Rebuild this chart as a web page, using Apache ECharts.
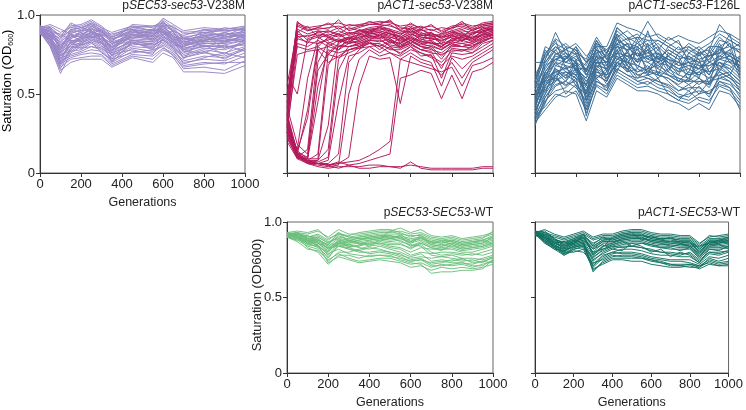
<!DOCTYPE html>
<html><head><meta charset="utf-8">
<script src="https://cdn.jsdelivr.net/npm/echarts@6/dist/echarts.min.js"></script>
<style>html,body{margin:0;padding:0;background:#fff}#c{width:746px;height:410px}</style>
</head><body><div id="c"></div>
<script>
var xTicks = [0, 200, 400, 600, 800, 1000];
var yTicks = [0, 0.5, 1.0];

var gens1 = [0,50,100,150,200,250,300,350,450,550,600,650,700,800,900,1000];
var gens50 = [0,50,100,150,200,250,300,350,400,450,500,550,600,650,700,750,800,850,900,950,1000];

var secV238M = [
[.91,.93,.89,.92,.93,.96,.92,.89,.93,.92,.97,.92,.89,.90,.91,.92],
[.92,.90,.84,.91,.92,.94,.91,.86,.92,.90,.95,.90,.87,.91,.90,.91],
[.90,.92,.87,.94,.90,.93,.89,.88,.91,.89,.94,.91,.86,.88,.92,.90],
[.89,.88,.80,.88,.91,.95,.90,.84,.90,.91,.96,.89,.84,.87,.88,.89],
[.93,.91,.82,.86,.89,.92,.88,.83,.94,.93,.93,.93,.88,.89,.87,.92],
[.90,.86,.76,.85,.88,.90,.87,.80,.89,.87,.92,.88,.83,.86,.85,.88],
[.91,.89,.78,.90,.87,.91,.90,.82,.88,.86,.91,.87,.81,.84,.86,.87],
[.88,.85,.72,.83,.86,.89,.86,.78,.87,.88,.90,.86,.80,.85,.84,.86],
[.92,.87,.74,.81,.85,.88,.85,.79,.86,.85,.89,.85,.78,.83,.83,.85],
[.90,.84,.70,.84,.84,.87,.84,.76,.85,.84,.88,.84,.79,.82,.82,.88],
[.89,.83,.68,.79,.83,.86,.83,.75,.84,.83,.87,.83,.77,.80,.81,.84],
[.91,.82,.66,.78,.82,.85,.82,.74,.83,.82,.86,.82,.76,.81,.79,.83],
[.90,.80,.63,.76,.80,.84,.81,.72,.82,.80,.85,.81,.75,.79,.78,.82],
[.92,.89,.85,.93,.94,.97,.93,.87,.93,.90,.98,.94,.90,.92,.91,.93],
[.89,.87,.81,.87,.86,.89,.88,.85,.89,.89,.93,.90,.85,.86,.89,.86],
[.91,.90,.79,.82,.85,.87,.84,.81,.90,.86,.90,.85,.82,.83,.84,.85],
[.88,.86,.77,.80,.79,.83,.80,.77,.84,.81,.84,.80,.74,.78,.76,.80],
[.90,.85,.75,.77,.78,.82,.79,.73,.80,.79,.83,.79,.73,.76,.74,.79],
[.91,.84,.73,.75,.77,.80,.78,.71,.79,.77,.82,.78,.71,.74,.73,.78],
[.89,.83,.71,.74,.76,.78,.77,.70,.77,.76,.81,.77,.70,.72,.71,.76],
[.92,.82,.69,.73,.75,.76,.75,.69,.75,.74,.79,.76,.68,.70,.69,.74],
[.90,.81,.67,.72,.73,.74,.74,.68,.74,.72,.78,.75,.66,.67,.65,.71],
[.89,.80,.65,.70,.72,.72,.72,.67,.73,.70,.76,.73,.64,.64,.63,.68],
[.91,.88,.83,.89,.90,.91,.89,.84,.91,.88,.91,.86,.83,.85,.83,.87],
[.90,.87,.80,.84,.83,.86,.85,.80,.87,.84,.88,.87,.82,.88,.87,.90],
[.93,.92,.86,.95,.92,.95,.92,.86,.92,.93,.95,.92,.85,.89,.90,.91],
[.88,.84,.74,.79,.81,.84,.82,.78,.83,.78,.86,.83,.78,.80,.80,.81],
[.90,.86,.72,.81,.82,.85,.83,.76,.81,.82,.87,.81,.80,.84,.85,.83],
[.89,.85,.77,.86,.88,.88,.87,.79,.88,.85,.89,.84,.81,.82,.82,.84],
[.91,.88,.79,.87,.84,.90,.86,.82,.86,.87,.92,.88,.84,.87,.86,.89],
[.92,.94,.91,.88,.86,.93,.90,.85,.88,.86,.96,.89,.82,.84,.88,.86],
[.89,.91,.86,.90,.92,.90,.86,.82,.85,.90,.91,.84,.86,.80,.83,.91],
[.91,.85,.78,.91,.89,.86,.88,.77,.91,.84,.94,.86,.72,.87,.79,.82],
[.90,.88,.70,.79,.87,.92,.84,.70,.83,.79,.88,.90,.77,.76,.81,.77],
[.93,.89,.88,.84,.81,.88,.91,.83,.87,.91,.89,.82,.80,.91,.86,.88],
[.88,.83,.75,.83,.79,.80,.79,.75,.78,.75,.85,.79,.69,.73,.76,.73],
[.90,.90,.81,.85,.90,.94,.89,.86,.90,.88,.93,.86,.85,.83,.89,.92],
[.91,.87,.69,.77,.81,.83,.76,.72,.76,.78,.80,.74,.67,.69,.70,.70],
[.92,.86,.83,.88,.83,.90,.82,.80,.84,.83,.90,.83,.79,.81,.75,.85],
[.89,.92,.76,.82,.86,.86,.87,.74,.82,.81,.84,.80,.73,.77,.72,.79]
];

var actV238M = [
[.45,.95,.92,.93,.94,.95,.93,.94,.95,.96,.95,.93,.94,.92,.93,.90,.93,.94,.92,.95,.96],
[.35,.93,.90,.92,.91,.97,.90,.92,.94,.95,.96,.92,.91,.93,.90,.92,.91,.95,.93,.94,.95],
[.55,.91,.88,.90,.89,.92,.88,.90,.92,.93,.94,.90,.89,.91,.88,.87,.90,.92,.90,.93,.94],
[.30,.88,.86,.89,.90,.87,.89,.88,.90,.92,.91,.89,.92,.88,.89,.85,.88,.90,.89,.91,.92],
[.62,.50,.85,.87,.86,.84,.86,.87,.89,.90,.88,.86,.90,.86,.85,.84,.86,.88,.85,.90,.91],
[.40,.85,.83,.82,.84,.88,.84,.85,.88,.89,.86,.84,.87,.83,.84,.80,.85,.86,.84,.88,.90],
[.25,.82,.80,.84,.80,.78,.82,.83,.86,.87,.84,.82,.85,.82,.80,.78,.83,.82,.83,.86,.88],
[.50,.80,.78,.80,.75,.81,.80,.82,.85,.85,.80,.79,.83,.80,.78,.76,.81,.80,.82,.85,.87],
[.38,.90,.84,.86,.82,.85,.83,.86,.87,.88,.82,.85,.88,.85,.82,.82,.84,.84,.86,.87,.89],
[.28,.75,.77,.78,.70,.74,.78,.80,.83,.78,.83,.80,.82,.78,.76,.75,.78,.77,.80,.84,.86],
[.48,.94,.91,.91,.92,.93,.91,.93,.94,.94,.93,.91,.93,.90,.91,.88,.92,.93,.91,.94,.95],
[.36,.86,.87,.88,.87,.90,.87,.89,.91,.91,.90,.88,.90,.87,.87,.86,.89,.88,.88,.91,.93],
[.42,.96,.90,.92,.95,.91,.94,.93,.96,.94,.97,.90,.95,.91,.94,.89,.92,.96,.90,.93,.94],
[.33,.89,.93,.86,.90,.88,.92,.90,.89,.92,.88,.87,.92,.89,.86,.88,.90,.86,.91,.92,.90],
[.44,.87,.82,.90,.86,.83,.86,.80,.84,.88,.85,.80,.84,.81,.83,.79,.82,.80,.81,.83,.86],
[.30,.15,.60,.85,.88,.86,.88,.90,.91,.92,.90,.88,.91,.87,.88,.86,.89,.91,.87,.92,.93],
[.25,.12,.40,.82,.85,.83,.85,.88,.90,.90,.88,.86,.89,.84,.86,.82,.87,.89,.85,.90,.92],
[.22,.10,.15,.78,.80,.84,.82,.84,.87,.85,.89,.83,.86,.82,.83,.80,.84,.86,.83,.88,.90],
[.35,.13,.10,.70,.83,.80,.80,.82,.84,.83,.85,.81,.84,.80,.81,.78,.82,.84,.82,.86,.88],
[.20,.09,.09,.55,.78,.76,.78,.80,.82,.80,.84,.79,.82,.78,.80,.74,.80,.80,.79,.84,.86],
[.42,.18,.12,.65,.75,.73,.76,.79,.80,.81,.79,.76,.80,.76,.74,.70,.77,.78,.76,.82,.84],
[.29,.14,.35,.80,.86,.88,.84,.91,.88,.93,.91,.82,.87,.91,.87,.83,.88,.83,.89,.89,.92],
[.37,.12,.09,.45,.82,.78,.86,.84,.90,.86,.86,.84,.85,.84,.89,.81,.83,.87,.85,.88,.87],
[.28,.11,.08,.12,.76,.82,.85,.86,.88,.89,.87,.85,.88,.86,.85,.84,.86,.87,.86,.89,.91],
[.33,.14,.09,.09,.68,.80,.83,.83,.86,.86,.83,.82,.86,.83,.82,.80,.85,.85,.84,.87,.89],
[.26,.11,.08,.08,.30,.84,.82,.88,.86,.87,.90,.86,.82,.88,.84,.86,.87,.84,.88,.90,.85],
[.24,.10,.07,.08,.15,.72,.80,.81,.84,.84,.81,.80,.84,.80,.79,.72,.81,.82,.80,.85,.88],
[.31,.12,.08,.07,.10,.65,.78,.79,.82,.82,.78,.78,.81,.78,.77,.66,.79,.78,.78,.83,.86],
[.27,.11,.06,.06,.08,.45,.74,.76,.80,.76,.80,.75,.80,.74,.75,.60,.76,.75,.76,.80,.84],
[.38,.13,.07,.06,.06,.12,.70,.78,.83,.80,.76,.74,.78,.76,.73,.68,.74,.72,.74,.78,.82],
[.26,.10,.06,.05,.04,.05,.50,.72,.78,.74,.76,.72,.76,.72,.70,.55,.73,.66,.72,.76,.80],
[.34,.12,.07,.06,.05,.06,.10,.55,.74,.72,.73,.44,.74,.70,.68,.62,.70,.60,.70,.74,.78],
[.29,.11,.07,.06,.05,.06,.07,.08,.11,.15,.20,.72,.70,.68,.66,.64,.67,.55,.68,.70,.73],
[.32,.12,.08,.06,.05,.07,.05,.06,.08,.10,.12,.60,.62,.65,.63,.47,.62,.47,.64,.66,.70],
[.30,.10,.07,.06,.05,.03,.05,.03,.03,.04,.04,.03,.07,.03,.02,.02,.02,.02,.02,.03,.03],
[.23,.09,.06,.04,.03,.04,.04,.04,.05,.05,.04,.04,.05,.04,.03,.03,.03,.03,.03,.04,.04]
];

var actF126L = [
[.45,.62,.72,.70,.68,.55,.75,.70,.85,.80,.78,.82,.75,.72,.70,.68,.66,.72,.78,.74,.70],
[.38,.55,.65,.60,.72,.48,.68,.62,.78,.82,.74,.76,.80,.66,.62,.60,.70,.62,.74,.78,.66],
[.52,.70,.80,.74,.65,.60,.80,.68,.88,.76,.70,.90,.72,.78,.74,.62,.64,.70,.82,.70,.74],
[.30,.48,.58,.62,.58,.42,.62,.58,.72,.70,.68,.65,.62,.60,.55,.52,.58,.56,.66,.62,.52],
[.60,.75,.85,.80,.78,.70,.84,.75,.92,.86,.82,.88,.80,.74,.80,.72,.70,.76,.86,.80,.78],
[.42,.58,.60,.55,.62,.52,.70,.65,.74,.66,.72,.70,.66,.62,.58,.64,.60,.54,.68,.66,.60],
[.35,.50,.68,.66,.70,.36,.58,.55,.68,.72,.62,.60,.58,.55,.50,.48,.55,.48,.62,.58,.48],
[.55,.66,.75,.78,.75,.65,.78,.72,.82,.85,.88,.80,.84,.80,.76,.78,.74,.80,.80,.84,.80],
[.48,.60,.70,.64,.60,.56,.74,.66,.80,.74,.76,.72,.70,.68,.64,.66,.62,.66,.72,.70,.64],
[.33,.45,.55,.58,.66,.46,.64,.60,.70,.64,.66,.62,.64,.58,.52,.56,.50,.58,.60,.62,.56],
[.58,.72,.89,.76,.72,.68,.82,.78,.86,.90,.84,.96,.86,.82,.78,.80,.76,.78,.94,.86,.82],
[.40,.52,.62,.68,.55,.50,.66,.62,.76,.68,.60,.66,.68,.64,.60,.58,.64,.60,.70,.64,.58],
[.50,.64,.74,.72,.80,.62,.72,.74,.80,.78,.80,.74,.76,.72,.68,.70,.72,.74,.76,.76,.72],
[.36,.42,.50,.48,.52,.40,.55,.50,.62,.58,.54,.55,.52,.50,.46,.44,.48,.46,.55,.52,.44],
[.70,.70,.78,.82,.76,.72,.86,.76,.90,.84,.86,.84,.78,.86,.82,.76,.80,.74,.84,.82,.76],
[.44,.56,.66,.60,.64,.54,.60,.64,.72,.76,.70,.78,.72,.70,.66,.62,.66,.64,.66,.72,.68],
[.32,.40,.48,.52,.50,.33,.52,.48,.60,.56,.52,.52,.50,.46,.44,.40,.44,.40,.52,.50,.42],
[.56,.68,.78,.70,.74,.64,.76,.70,.84,.80,.74,.78,.82,.76,.72,.74,.70,.72,.80,.74,.70],
[.46,.60,.64,.66,.68,.58,.68,.66,.74,.70,.64,.68,.60,.66,.70,.66,.62,.68,.70,.68,.62],
[.40,.50,.60,.56,.58,.44,.66,.56,.66,.62,.58,.60,.56,.54,.48,.50,.52,.50,.58,.56,.50],
[.54,.76,.82,.78,.82,.74,.80,.80,.95,.92,.90,.86,.88,.84,.87,.84,.82,.86,.90,.88,.84],
[.38,.54,.58,.64,.62,.50,.72,.60,.70,.74,.68,.64,.70,.62,.60,.56,.60,.56,.64,.60,.54],
[.50,.62,.70,.68,.66,.60,.70,.68,.78,.72,.78,.70,.74,.70,.66,.68,.66,.70,.74,.72,.66],
[.34,.46,.52,.54,.60,.40,.60,.52,.64,.60,.56,.58,.54,.52,.48,.46,.50,.52,.56,.54,.46],
[.62,.74,.80,.76,.70,.66,.78,.74,.82,.78,.82,.76,.72,.78,.74,.72,.76,.74,.78,.80,.76],
[.42,.58,.66,.62,.66,.56,.64,.62,.68,.66,.62,.64,.62,.60,.56,.60,.56,.60,.62,.64,.58],
[.47,.64,.72,.74,.70,.62,.74,.70,.76,.74,.72,.74,.70,.74,.68,.70,.68,.68,.72,.74,.70],
[.36,.48,.56,.58,.54,.46,.58,.54,.66,.62,.60,.62,.58,.56,.52,.54,.54,.50,.60,.58,.52],
[.58,.80,.76,.72,.78,.64,.84,.72,.88,.82,.80,.84,.84,.80,.76,.82,.78,.82,.88,.84,.80],
[.44,.55,.62,.64,.60,.52,.62,.58,.70,.68,.64,.66,.64,.62,.58,.58,.58,.58,.64,.60,.56],
[.48,.72,.84,.66,.62,.70,.78,.64,.82,.68,.84,.72,.78,.70,.62,.74,.68,.62,.76,.82,.62],
[.40,.64,.58,.74,.70,.50,.82,.72,.64,.78,.66,.82,.62,.76,.72,.58,.76,.64,.70,.66,.72],
[.55,.58,.70,.80,.64,.58,.66,.76,.86,.70,.76,.66,.74,.64,.76,.70,.60,.78,.64,.76,.60],
[.35,.60,.76,.70,.76,.62,.74,.58,.76,.82,.70,.74,.68,.72,.64,.76,.72,.56,.80,.70,.68],
[.50,.52,.64,.58,.70,.46,.70,.70,.78,.64,.80,.62,.76,.68,.58,.64,.78,.70,.68,.62,.74],
[.43,.68,.72,.76,.66,.66,.60,.66,.92,.86,.74,.80,.70,.80,.84,.70,.66,.74,.76,.88,.64],
[.31,.44,.62,.50,.56,.38,.56,.52,.70,.66,.58,.56,.60,.50,.46,.52,.46,.44,.58,.54,.40],
[.57,.78,.68,.72,.80,.70,.76,.78,.72,.76,.86,.78,.66,.74,.70,.80,.74,.80,.72,.78,.82]
];

var secWT = [
[.92,.93,.92,.94,.90,.95,.92,.92,.93,.94,.94,.96,.93,.95,.91,.90,.91,.89,.90,.91,.93],
[.91,.92,.90,.92,.88,.93,.90,.91,.92,.93,.93,.94,.92,.93,.90,.89,.90,.88,.89,.90,.92],
[.93,.94,.93,.95,.89,.92,.91,.93,.94,.95,.95,.93,.90,.92,.89,.88,.89,.87,.88,.89,.94],
[.90,.91,.89,.90,.86,.90,.89,.90,.91,.92,.92,.92,.91,.91,.88,.87,.88,.86,.87,.88,.90],
[.92,.90,.88,.89,.84,.89,.88,.89,.90,.91,.90,.91,.89,.90,.87,.86,.87,.85,.86,.87,.89],
[.91,.92,.91,.87,.82,.88,.87,.88,.89,.90,.89,.90,.88,.89,.86,.85,.86,.84,.85,.86,.88],
[.90,.89,.87,.86,.80,.87,.86,.87,.88,.89,.88,.89,.86,.88,.85,.84,.85,.83,.84,.85,.87],
[.92,.91,.86,.85,.78,.86,.85,.86,.87,.88,.87,.88,.84,.87,.84,.83,.84,.82,.83,.84,.86],
[.91,.90,.85,.84,.76,.85,.84,.84,.86,.87,.86,.86,.82,.86,.83,.82,.83,.81,.82,.83,.85],
[.93,.92,.89,.88,.85,.91,.88,.86,.85,.86,.84,.83,.80,.83,.82,.82,.82,.80,.80,.82,.84],
[.90,.88,.84,.82,.74,.80,.80,.82,.84,.85,.83,.82,.78,.80,.79,.80,.80,.79,.78,.80,.82],
[.91,.89,.86,.83,.77,.84,.82,.80,.80,.81,.80,.78,.76,.77,.76,.77,.76,.75,.74,.76,.78],
[.92,.90,.83,.80,.72,.78,.78,.76,.78,.78,.77,.76,.74,.75,.73,.74,.73,.73,.72,.74,.76],
[.90,.87,.82,.81,.75,.79,.76,.74,.75,.76,.76,.74,.72,.73,.70,.72,.71,.72,.70,.72,.74],
[.91,.91,.87,.85,.73,.77,.75,.73,.74,.75,.74,.73,.70,.71,.68,.70,.69,.70,.69,.70,.72],
[.92,.89,.85,.84,.79,.82,.79,.78,.77,.78,.78,.75,.73,.72,.66,.67,.67,.68,.68,.69,.75],
[.90,.88,.88,.86,.81,.86,.84,.84,.88,.89,.90,.87,.85,.84,.78,.77,.78,.76,.76,.75,.77],
[.91,.93,.90,.91,.87,.89,.86,.88,.90,.91,.91,.89,.87,.89,.87,.86,.88,.86,.87,.88,.91],
[.93,.91,.88,.87,.83,.84,.83,.85,.86,.86,.85,.85,.83,.85,.80,.78,.79,.78,.79,.78,.80],
[.92,.92,.89,.90,.86,.92,.90,.89,.89,.90,.91,.90,.86,.90,.85,.84,.86,.84,.85,.86,.90],
[.91,.90,.87,.88,.84,.87,.85,.83,.82,.84,.82,.80,.77,.79,.74,.75,.74,.76,.73,.74,.73],
[.90,.91,.86,.89,.82,.85,.82,.81,.83,.82,.80,.79,.75,.76,.72,.73,.75,.74,.75,.73,.77],
[.91,.90,.91,.88,.85,.93,.87,.90,.91,.89,.94,.92,.87,.91,.86,.88,.87,.85,.86,.88,.85],
[.92,.93,.88,.84,.80,.88,.83,.81,.79,.80,.79,.77,.74,.75,.71,.71,.72,.73,.71,.71,.75],
[.90,.92,.89,.86,.83,.86,.88,.86,.84,.88,.89,.91,.84,.86,.83,.81,.85,.82,.83,.84,.86]
];

var actWT = [
[.93,.95,.92,.90,.92,.94,.90,.92,.92,.94,.95,.95,.93,.92,.92,.91,.91,.86,.90,.91,.92],
[.92,.93,.91,.89,.91,.93,.89,.91,.91,.93,.94,.94,.92,.91,.91,.90,.90,.85,.91,.90,.91],
[.94,.92,.90,.88,.90,.92,.88,.90,.90,.92,.93,.93,.91,.90,.90,.89,.89,.84,.89,.89,.90],
[.93,.94,.89,.86,.89,.91,.86,.89,.89,.91,.92,.92,.90,.89,.89,.88,.88,.83,.88,.88,.89],
[.92,.91,.88,.85,.88,.90,.84,.88,.88,.90,.91,.91,.89,.88,.88,.87,.87,.82,.87,.87,.88],
[.91,.90,.87,.84,.87,.89,.82,.87,.87,.89,.90,.90,.88,.87,.87,.86,.86,.80,.86,.86,.87],
[.93,.89,.86,.83,.86,.88,.80,.86,.86,.88,.89,.89,.87,.86,.86,.85,.85,.79,.85,.85,.86],
[.92,.88,.85,.82,.85,.87,.78,.84,.85,.87,.88,.88,.86,.85,.85,.84,.84,.78,.84,.84,.85],
[.94,.87,.84,.80,.84,.86,.76,.82,.84,.86,.87,.87,.85,.84,.84,.83,.83,.77,.83,.83,.84],
[.93,.86,.83,.79,.83,.85,.74,.80,.83,.85,.86,.86,.84,.83,.82,.82,.82,.76,.82,.82,.83],
[.92,.88,.85,.80,.86,.88,.82,.85,.82,.84,.84,.83,.81,.80,.80,.79,.79,.74,.80,.79,.81],
[.91,.90,.84,.78,.82,.84,.72,.78,.80,.82,.82,.81,.79,.78,.78,.77,.77,.73,.79,.78,.80],
[.93,.87,.82,.81,.84,.86,.70,.76,.79,.80,.80,.79,.77,.76,.75,.75,.75,.72,.77,.76,.78],
[.92,.89,.86,.83,.85,.87,.67,.74,.77,.78,.78,.77,.75,.74,.72,.72,.72,.70,.76,.74,.76],
[.94,.91,.87,.82,.83,.85,.68,.73,.76,.76,.76,.76,.74,.73,.71,.71,.70,.70,.74,.72,.73],
[.93,.90,.86,.84,.86,.90,.79,.84,.86,.89,.90,.90,.87,.86,.84,.85,.84,.79,.85,.86,.88],
[.92,.92,.88,.87,.89,.92,.84,.88,.89,.91,.92,.92,.89,.88,.87,.87,.86,.81,.86,.87,.89],
[.93,.88,.83,.79,.82,.83,.71,.77,.80,.79,.79,.78,.76,.75,.74,.74,.73,.71,.75,.73,.74],
[.91,.91,.87,.86,.88,.91,.85,.90,.88,.90,.91,.91,.90,.89,.89,.88,.88,.82,.88,.88,.90],
[.94,.93,.89,.85,.87,.89,.83,.87,.87,.88,.89,.89,.88,.87,.86,.86,.87,.80,.87,.86,.87],
[.92,.86,.82,.78,.81,.80,.73,.75,.78,.77,.77,.76,.75,.73,.72,.71,.72,.71,.73,.71,.72],
[.93,.89,.85,.81,.84,.84,.77,.81,.84,.83,.84,.83,.82,.80,.79,.78,.80,.75,.80,.80,.81],
[.92,.91,.86,.87,.85,.92,.78,.83,.90,.92,.93,.88,.91,.88,.90,.86,.84,.84,.86,.88,.86],
[.93,.87,.84,.82,.88,.86,.75,.79,.82,.81,.86,.84,.80,.82,.77,.80,.78,.73,.82,.81,.84],
[.91,.92,.89,.84,.87,.90,.80,.82,.85,.87,.84,.86,.85,.83,.83,.81,.83,.77,.84,.85,.82],
[.94,.90,.83,.80,.80,.82,.69,.72,.75,.75,.74,.74,.72,.71,.70,.70,.71,.69,.72,.71,.71]
];

var FONT = "'Liberation Sans', Arial, Helvetica, sans-serif";
var panels = [
  {gens: gens1,  lines: secV238M, color: '#9886c6', grid: {left: 40,  top: 15,  width: 205, height: 158}, xl: true,  yl: true,
   title: ['p', 'SEC53-sec53', '-V238M']},
  {gens: gens50, lines: actV238M, color: '#b2175a', grid: {left: 287, top: 15,  width: 206, height: 158}, xl: false, yl: false,
   title: ['p', 'ACT1-sec53', '-V238M']},
  {gens: gens50, lines: actF126L, color: '#3b6d96', grid: {left: 535, top: 15,  width: 205, height: 158}, xl: false, yl: false,
   title: ['p', 'ACT1-sec53', '-F126L']},
  {gens: gens50, lines: secWT,    color: '#6cc07b', grid: {left: 287, top: 222, width: 206, height: 158}, xl: true,  yl: true,
   title: ['p', 'SEC53-SEC53', '-WT']},
  {gens: gens50, lines: actWT,    color: '#127262', grid: {left: 535, top: 222, width: 205, height: 158}, xl: true,  yl: false,
   title: ['p', 'ACT1-SEC53', '-WT']}
];

var grids = [], xAxes = [], yAxes = [], series = [], titles = [];
var axisCol = '#333';
panels.forEach(function (p, k) {
  grids.push(Object.assign({show: true, borderColor: '#666', borderWidth: 1, containLabel: false}, p.grid));
  xAxes.push({
    gridIndex: k, type: 'value', min: xTicks[0], max: xTicks[xTicks.length - 1], interval: xTicks[1] - xTicks[0],
    name: p.xl ? 'Generations' : '', nameLocation: 'middle', nameGap: 23,
    nameTextStyle: {fontFamily: FONT, fontSize: 12.5, color: '#222'},
    axisLine: {show: true, onZero: false, lineStyle: {color: axisCol, width: 1}},
    axisTick: {show: true, inside: false, length: 4, lineStyle: {color: axisCol}},
    axisLabel: {show: p.xl, margin: 5, fontFamily: FONT, fontSize: 13, color: '#222',
      formatter: function (v) { return String(v); }},
    splitLine: {show: false}
  });
  yAxes.push({
    gridIndex: k, type: 'value', min: yTicks[0], max: yTicks[yTicks.length - 1], interval: yTicks[1] - yTicks[0],
    axisLine: {show: true, onZero: false, lineStyle: {color: axisCol, width: 1}},
    axisTick: {show: true, inside: false, length: 4, lineStyle: {color: axisCol}},
    axisLabel: {show: p.yl, margin: 5, fontFamily: FONT, fontSize: 13, color: '#222',
      formatter: function (v) { return v === 0 ? '0' : v.toFixed(1); }},
    splitLine: {show: false}
  });
  p.lines.forEach(function (vals) {
    series.push({
      type: 'line', xAxisIndex: k, yAxisIndex: k, silent: true, showSymbol: false, symbol: 'none',
      data: p.gens.map(function (g, i) { return [g, vals[i]]; }),
      lineStyle: {color: p.color, width: 1, opacity: 0.95},
      emphasis: {disabled: true}, z: 1
    });
  });
  titles.push({
    text: '{n|' + p.title[0] + '}{i|' + p.title[1] + '}{n|' + p.title[2] + '}',
    right: 746 - (p.grid.left + p.grid.width), top: p.grid.top - 15,
    padding: 0,
    textStyle: {fontFamily: FONT, fontSize: 12, fontWeight: 'normal', color: '#222',
      rich: {n: {fontFamily: FONT, fontSize: 12, color: '#222'},
             i: {fontFamily: FONT, fontSize: 12, color: '#222', fontStyle: 'italic'}}}
  });
});

var chart = echarts.init(document.getElementById('c'), null, {renderer: 'canvas'});
chart.setOption({
  animation: false,
  backgroundColor: '#fff',
  title: titles,
  grid: grids, xAxis: xAxes, yAxis: yAxes, series: series,
  graphic: [
    {type: 'text', x: 7, y: 81, rotation: Math.PI / 2,
     style: {text: '{a|Saturation (OD}{s|600}{a|)}', align: 'center', verticalAlign: 'middle',
       rich: {a: {fontFamily: FONT, fontSize: 13, color: '#222', lineHeight: 15},
              s: {fontFamily: FONT, fontSize: 7, color: '#222', verticalAlign: 'bottom', lineHeight: 15}}}},
    {type: 'text', x: 257, y: 295, rotation: Math.PI / 2,
     style: {text: 'Saturation (OD600)', align: 'center', verticalAlign: 'middle',
       fontFamily: FONT, fontSize: 13, fill: '#222'}}
  ]
});
</script></body></html>
